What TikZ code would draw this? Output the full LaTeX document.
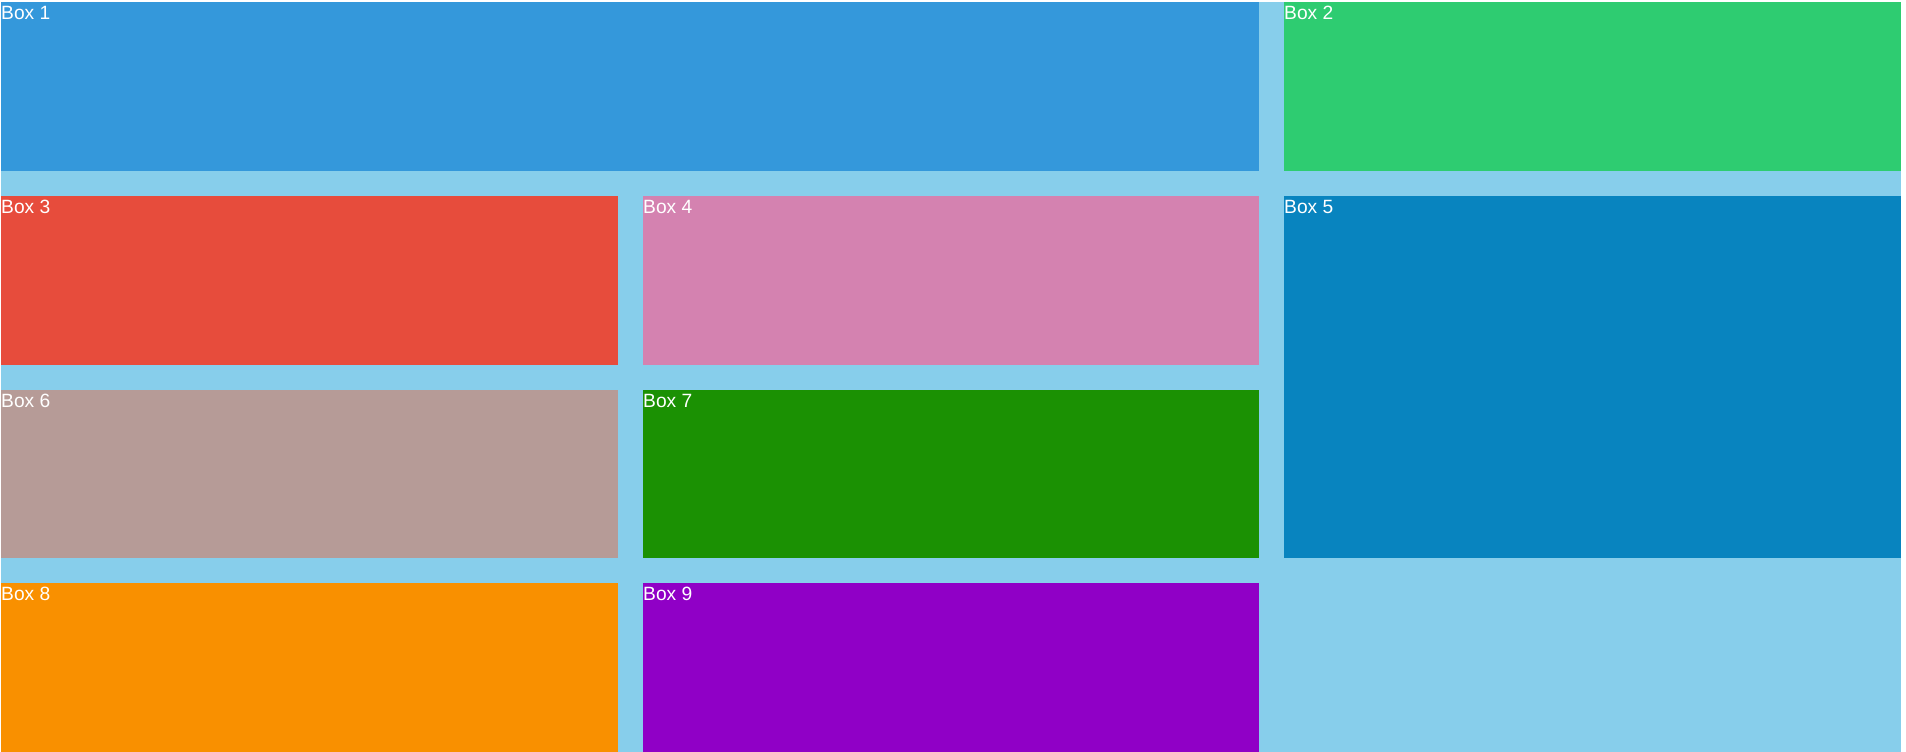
\documentclass[tikz,border=0pt]{standalone}
\usepackage{fontspec}
\setmainfont{Liberation Sans}
\usepackage{xcolor}
\usepackage{tikz}
\definecolor{sky}{RGB}{135,206,235}
\definecolor{boxA}{RGB}{52,152,219}
\definecolor{boxB}{RGB}{46,204,113}
\definecolor{boxC}{RGB}{231,76,60}
\definecolor{boxD}{RGB}{212,130,176}
\definecolor{boxE}{RGB}{8,132,191}
\definecolor{boxF}{RGB}{182,155,151}
\definecolor{boxG}{RGB}{27,145,3}
\definecolor{boxH}{RGB}{249,144,0}
\definecolor{boxI}{RGB}{144,0,198}

\begin{document}
\begin{tikzpicture}[x=1pt, y=-1pt,
  cell/.style={anchor=north west, inner sep=0pt, outer sep=0pt, minimum width=617pt, minimum height=169pt},
  lab/.style={anchor=base west, inner sep=0pt, text=white, font=\fontsize{19.2}{23}\selectfont}]
\useasboundingbox (0,0) rectangle (1906,752);
\fill[sky] (1,2) rectangle (1901,752);
% row 1
\node[cell, fill=boxA, minimum width=1258pt] (b1) at (1,2) {};
\node[cell, fill=boxB] (b2) at (1284,2) {};
% rows 2 and 3
\node[cell, fill=boxC] (b3) at (1,196) {};
\node[cell, fill=boxD, minimum width=616pt] (b4) at (643,196) {};
\node[cell, fill=boxE, minimum height=362pt] (b5) at (1284,196) {};
\node[cell, fill=boxF, minimum height=168pt] (b6) at (1,390) {};
\node[cell, fill=boxG, minimum width=616pt, minimum height=168pt] (b7) at (643,390) {};
% row 4
\node[cell, fill=boxH] (b8) at (1,583) {};
\node[cell, fill=boxI, minimum width=616pt] (b9) at (643,583) {};
% labels
\node[lab] (l1) at ([yshift=-17.8pt]b1.north west) {Box 1};
\node[lab] (l2) at ([yshift=-17.8pt]b2.north west) {Box 2};
\node[lab] (l3) at ([yshift=-17.8pt]b3.north west) {Box 3};
\node[lab] (l4) at ([yshift=-17.8pt]b4.north west) {Box 4};
\node[lab] (l5) at ([yshift=-17.8pt]b5.north west) {Box 5};
\node[lab] (l6) at ([yshift=-17.8pt]b6.north west) {Box 6};
\node[lab] (l7) at ([yshift=-17.8pt]b7.north west) {Box 7};
\node[lab] (l8) at ([yshift=-17.8pt]b8.north west) {Box 8};
\node[lab] (l9) at ([yshift=-17.8pt]b9.north west) {Box 9};
\end{tikzpicture}
\end{document}
